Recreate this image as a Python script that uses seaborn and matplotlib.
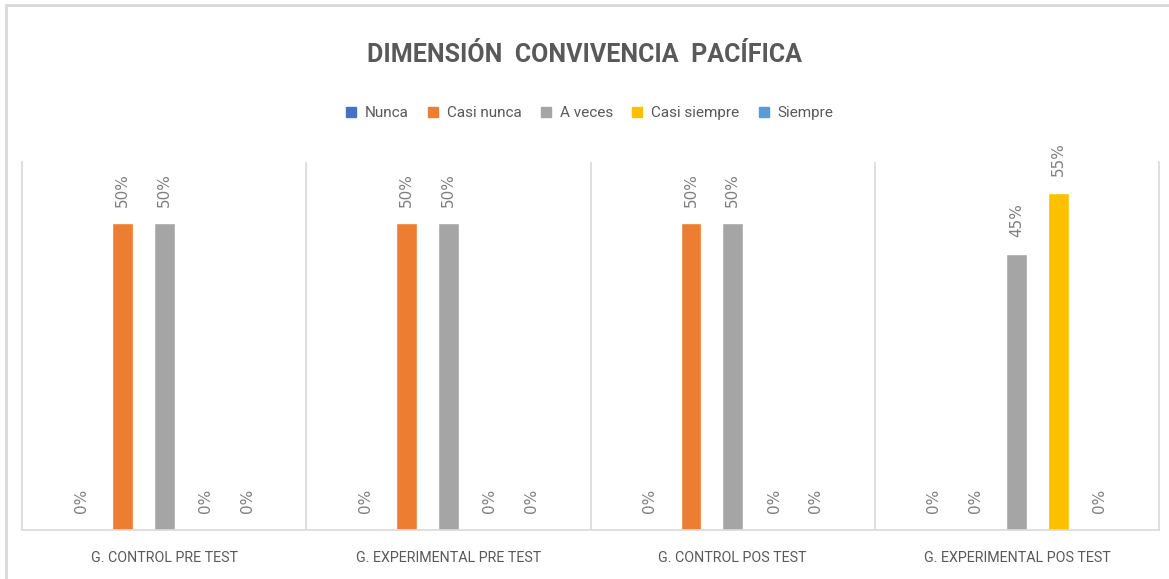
import matplotlib
matplotlib.use('Agg')
import matplotlib.pyplot as plt
import seaborn as sns
import pandas as pd
from matplotlib.lines import Line2D

# datos del grafico
grupos = ['G. CONTROL PRE TEST', 'G. EXPERIMENTAL PRE TEST',
          'G. CONTROL POS TEST', 'G. EXPERIMENTAL POS TEST']
niveles = ['Nunca', 'Casi nunca', 'A veces', 'Casi siempre', 'Siempre']
nunca = [0.00, 0.00, 0.00, 0.00]
casi_nunca = [0.50, 0.50, 0.50, 0.00]
a_veces = [0.50, 0.50, 0.50, 0.45]
casi_siempre = [0.00, 0.00, 0.00, 0.55]
siempre = [0.00, 0.00, 0.00, 0.00]
colores = ['#4472C4', '#ED7D31', '#A5A5A5', '#FFC000', '#5B9BD5']

series = [nunca, casi_nunca, a_veces, casi_siempre, siempre]
filas = []
for nivel, valores in zip(niveles, series):
    for g, v in zip(grupos, valores):
        filas.append({'grupo': g, 'nivel': nivel, 'valor': v})
df = pd.DataFrame(filas)

sns.set_style('white')
plt.rcParams['font.family'] = ['Roboto', 'DejaVu Sans']

fig = plt.figure(figsize=(11.69, 5.79), dpi=100)
fig.patch.set_color('white')
ax = fig.add_axes([22/1169, 49/579, (1159-22)/1169, (530-162)/579])

sns.barplot(data=df, x='grupo', y='valor', hue='nivel', order=grupos,
            hue_order=niveles, palette=colores, width=0.73, gap=0.5,
            saturation=1, legend=False, ax=ax)

ax.set_ylim(0, 0.6)
ax.set_xlim(-0.5, 3.5)
ax.set_xlabel('')
ax.set_ylabel('')
ax.set_yticks([])
ax.tick_params(axis='x', length=0, pad=15)
ax.set_xticks(range(len(grupos)))
ax.set_xticklabels(grupos, fontsize=10.3, color='#595959')

ax.spines['top'].set_visible(False)
for s in ['left', 'right', 'bottom']:
    ax.spines[s].set_color('#D9D9D9')
    ax.spines[s].set_linewidth(1.2)
for xs in [0.5, 1.5, 2.5]:
    ax.axvline(xs, color='#D9D9D9', lw=1.2)

for cont in ax.containers:
    ax.bar_label(cont, labels=[f'{v*100:.0f}%' for v in cont.datavalues],
                 rotation=90, padding=12, fontsize=11, color='#7F7F7F',
                 family='DejaVu Sans')

fig.text(0.5, 0.905, 'DIMENSIÓN  CONVIVENCIA  PACÍFICA', ha='center',
         va='center', fontsize=18, fontweight='bold', color='#595959')

handles = [Line2D([], [], marker='s', ls='', color=c, markersize=7.5)
           for c in colores]
fig.legend(handles, niveles, loc='center', bbox_to_anchor=(0.5, 0.805),
           ncol=5, frameon=False, fontsize=11, handletextpad=-0.1,
           columnspacing=0.6, labelcolor='#595959')

# borde del grafico (arriba e izquierda)
fig.add_artist(Line2D([6/1169, 6/1169], [0, 1-5/579], color='#D9D9D9',
                      lw=2, transform=fig.transFigure))
fig.add_artist(Line2D([6/1169, 1], [1-5/579, 1-5/579], color='#D9D9D9',
                      lw=2, transform=fig.transFigure))

fig.savefig('out.png', dpi=100)
